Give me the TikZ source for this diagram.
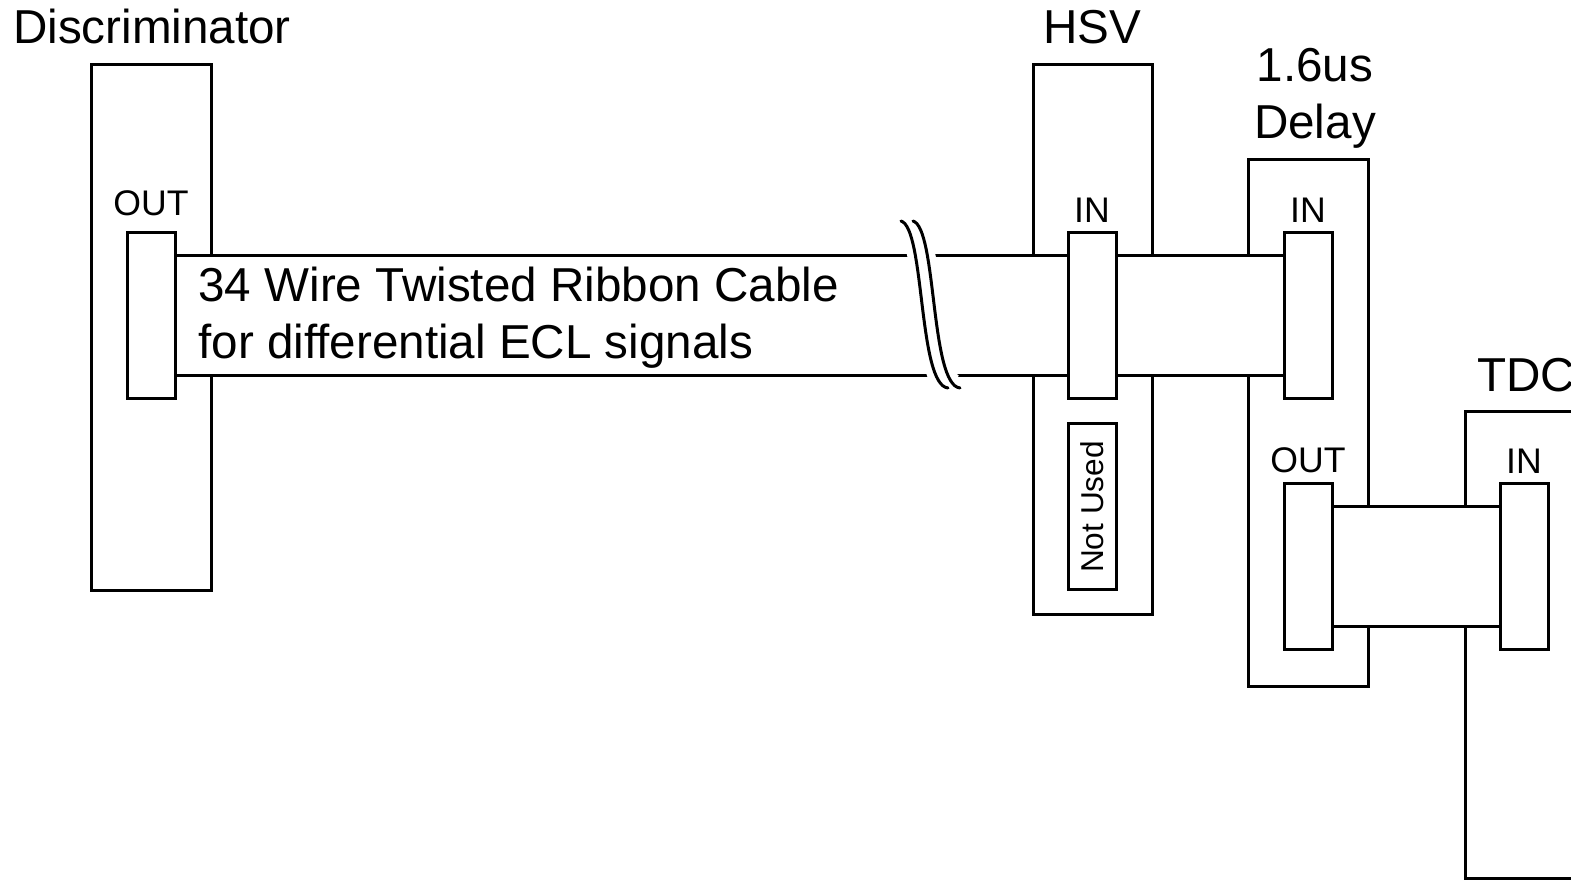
\documentclass[tikz,border=0pt]{standalone}
\usepackage{fontspec}
\setmainfont{Liberation Sans}
\usetikzlibrary{calc,positioning,backgrounds}

\tikzset{
    frame/.style={draw, line width=1.5pt, line join=miter},
    plug/.style={frame, fill=white, minimum width=24pt, minimum height=83pt, inner sep=0pt},
    unused/.style={frame, fill=white, minimum width=83pt, minimum height=24pt, inner sep=0pt, rotate=90, font=\fontsize{15.8}{18}\selectfont},
    title/.style={font=\fontsize{23.8}{28.5}\selectfont, inner sep=0pt},
    port/.style={font=\fontsize{17.8}{21}\selectfont, inner sep=0pt},
}

\begin{document}
\begin{tikzpicture}[x=0.5pt, y=-0.5pt]
    \useasboundingbox (0,0) rectangle (1571,881);
    \clip (0,0) rectangle (1571,881);

    % connectors
    \node[plug] (discout) at (151,316) {};
    \node[plug] (hsvin) at (1092,316) {};
    \node[unused] (hsvfree) at (1092,507) {Not Used};
    \node[plug] (dlyin) at (1308,316) {};
    \node[plug] (dlyout) at (1308,567) {};
    \node[plug] (tdcin) at (1524,567) {};

    % module names
    \node[title, anchor=base] (disctitle) at (152,44) {Discriminator};
    \node[title, anchor=base] (hsvtitle) at (1092,44) {HSV};
    \node[title, anchor=north, align=center] (dlytitle) at (1315,48) {1.6us\\Delay};
    \node[title, anchor=base] (tdctitle) at (1526,392) {TDC};

    % port names
    \node[port, above=7.5pt of discout] (discoutlbl) {OUT};
    \node[port, above=4.5pt of hsvin] (hsvinlbl) {IN};
    \node[port, above=4.5pt of dlyin] (dlyinlbl) {IN};
    \node[port, above=4.5pt of dlyout] (dlyoutlbl) {OUT};
    \node[port, above=4.5pt of tdcin] (tdcinlbl) {IN};

    \node[title, anchor=north west, align=left] (cablelbl) at (198,267) {34 Wire Twisted Ribbon Cable\\for differential ECL signals};

    \begin{pgfonlayer}{background}
        \draw[frame] (91,65) rectangle (211,591);
        \draw[frame] (1033,65) rectangle (1152,615);
        \draw[frame] (1248,160) rectangle (1368,687);
        \draw[frame] (1465,412) rectangle (1640,879);
        \foreach \a/\b in {discout/hsvin, hsvin/dlyin, dlyout/tdcin}
            \fill[white] ($(\a.east)+(0,-60)$) rectangle ($(\b.west)+(0,60)$);
    \end{pgfonlayer}

    % cables
    \foreach \a/\b in {discout/hsvin, hsvin/dlyin, dlyout/tdcin} {
        \draw[frame] ($(\a.east)+(0,-60)$) -- ($(\b.west)+(0,-60)$);
        \draw[frame] ($(\a.east)+(0,60)$) -- ($(\b.west)+(0,60)$);
    }

    % cable break
    \draw[white, line width=14pt] (907,221) .. controls (931,228) and (924,385) .. (954,388);
    \foreach \dx in {0,12}
        \draw[frame, line cap=round] (901+\dx,221) .. controls (925+\dx,228) and (918+\dx,385) .. (948+\dx,388);
\end{tikzpicture}
\end{document}
